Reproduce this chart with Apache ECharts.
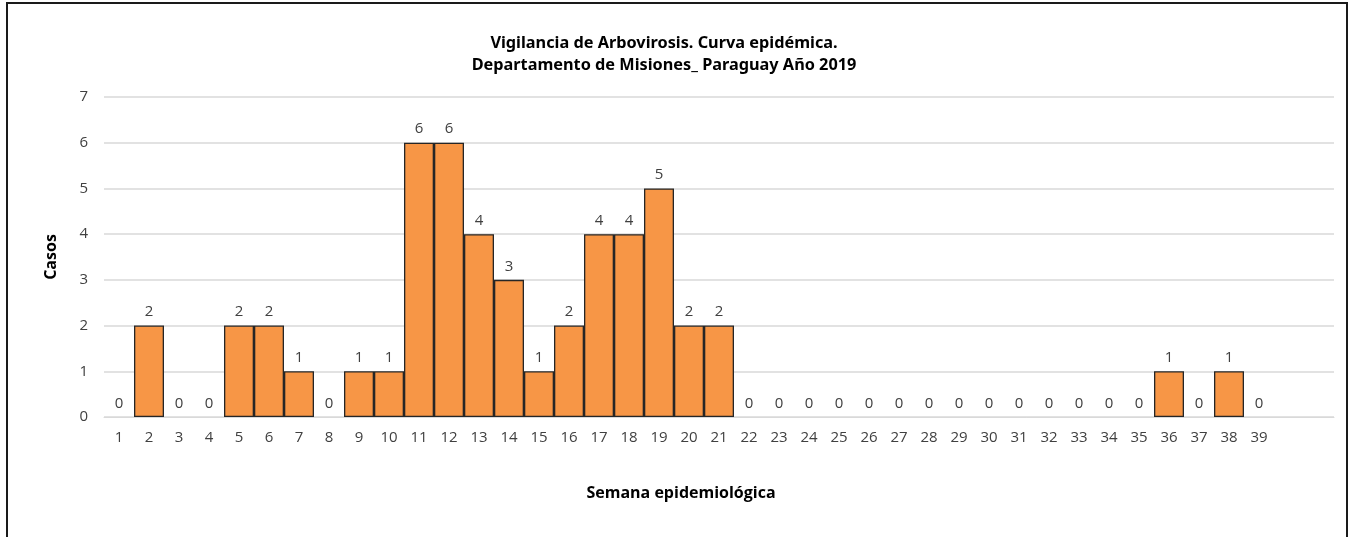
<!DOCTYPE html>
<html>
<head>
<meta charset="utf-8">
<script src="https://cdn.jsdelivr.net/npm/echarts@6/dist/echarts.min.js"></script>
<style>
html,body{margin:0;padding:0;background:#fff;}
#chart{width:1350px;height:537px;}
</style>
</head>
<body>
<div id="chart"></div>
<script>
const weeks = ['1','2','3','4','5','6','7','8','9','10','11','12','13','14','15','16','17','18','19','20','21','22','23','24','25','26','27','28','29','30','31','32','33','34','35','36','37','38','39','',''];
const casos = [0,2,0,0,2,2,1,0,1,1,6,6,4,3,1,2,4,4,5,2,2,0,0,0,0,0,0,0,0,0,0,0,0,0,0,1,0,1,0,null,null];
const yTicks = [0,1,2,3,4,5,6,7];
const titleLines = ['Vigilancia de Arbovirosis. Curva epidémica.', 'Departamento de Misiones_ Paraguay Año 2019'];

const chart = echarts.init(document.getElementById('chart'));
const font = '"Open Sans", "Noto Sans", sans-serif';
const barData = casos.map(v => (v === 0 ? { value: 0, itemStyle: { borderWidth: 0 } } : v));
chart.setOption({
  animation: false,
  backgroundColor: '#ffffff',
  title: {
    text: titleLines.join('\n'),
    left: 659, top: 27, textAlign: 'center',
    textStyle: { fontFamily: '"Noto Sans", sans-serif', fontWeight: 'bold', fontSize: 16.3, lineHeight: 22, color: '#000' }
  },
  graphic: [{
    type: 'polyline', silent: true,
    shape: { points: [[7,537],[7,3],[1347,3],[1347,537]] },
    style: { stroke: '#1a1a1a', lineWidth: 2, fill: null }
  }],
  grid: { left: 104, right: 16, top: 97, bottom: 120, containLabel: false },
  xAxis: {
    type: 'category', data: weeks,
    name: 'Semana epidemiológica', nameLocation: 'middle', nameGap: 68,
    nameTextStyle: { fontFamily: font, fontWeight: 'bold', fontSize: 16, color: '#000', padding: [0,0,0,-76] },
    axisLine: { lineStyle: { color: '#d9d9d9', width: 1 } },
    axisTick: { show: false },
    axisLabel: { interval: 0, fontFamily: font, fontSize: 15, color: '#404040', margin: 13 }
  },
  yAxis: {
    type: 'value', min: 0, max: 7, interval: 1,
    name: 'Casos', nameLocation: 'middle', nameGap: 45, nameRotate: 90,
    nameTextStyle: { fontFamily: font, fontWeight: 'bold', fontSize: 16, color: '#000' },
    axisLine: { show: false }, axisTick: { show: false },
    axisLabel: { fontFamily: font, fontSize: 15, color: '#404040', margin: 16,
      formatter: v => yTicks.includes(v) ? String(v) : '' },
    splitLine: { lineStyle: { color: '#d9d9d9', width: 1.5 } }
  },
  series: [{
    type: 'bar', data: barData, barCategoryGap: '0%',
    itemStyle: { color: '#F79646', borderColor: '#262626', borderWidth: 1.3 },
    label: { show: true, position: 'top', distance: 6, fontFamily: font, fontSize: 15, color: '#404040' }
  }]
});
</script>
</body>
</html>
